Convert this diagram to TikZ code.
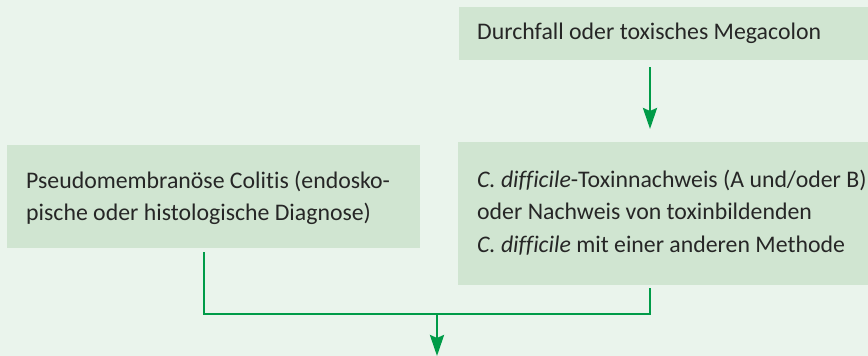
\documentclass[tikz,border=0pt]{standalone}
\usepackage{fontspec}
\setmainfont[Ligatures=NoCommon]{Carlito}
\usetikzlibrary{arrows.meta}
\definecolor{bgcol}{RGB}{234,244,236}
\definecolor{boxcol}{RGB}{208,229,209}
\definecolor{arrcol}{RGB}{0,155,72}
\definecolor{txtcol}{RGB}{38,38,38}
\tikzset{
  box/.style={fill=boxcol, draw=none, inner sep=0pt, anchor=north west},
  txt/.style={inner sep=0pt, anchor=base west, text=txtcol,
    font=\fontsize{23.8}{32}\selectfont},
  conn/.style={draw=arrcol, line width=2.8pt},
  arr/.style={conn, -{Stealth[length=21pt,width=14pt,inset=3pt]}}
}
\newcommand{\twolines}[2]{\vtop{\baselineskip=32pt\hbox{#1}\hbox{#2}}}
\newcommand{\threelines}[3]{\vtop{\baselineskip=32.5pt\hbox{#1}\hbox{#2}\hbox{#3}}}
\begin{document}
\begin{tikzpicture}[x=1pt,y=-1pt]
\fill[bgcol] (0,0) rectangle (868,356);
\useasboundingbox (0,0) rectangle (868,356);
% boxes
\node[box, minimum width=409pt, minimum height=53pt] (top) at (459,7) {};
\node[box, minimum width=410pt, minimum height=143pt] (right) at (458,142) {};
\node[box, minimum width=413pt, minimum height=103pt] (left) at (7,145) {};
% texts
\node[txt] (toptxt) at (477,39) {Durchfall oder toxisches Megacolon};
\node[txt] (righttxt) at (477,187) {\threelines{\textit{C. difficile}-Toxinnachweis (A und/oder B)}{oder Nachweis von toxinbildenden}{\textit{C. difficile} mit einer anderen Methode}};
\node[txt] (lefttxt) at (26,188) {\twolines{Pseudomembranöse Colitis (endosko-}{pische oder histologische Diagnose)}};
% ports
\coordinate (topout) at (650,67);
\coordinate (rightin) at (650,129);
\coordinate (leftout) at (204,252);
\coordinate (rightout) at (650,288);
\coordinate (join) at (437,314);
\coordinate (endpt) at (437,356);
% connectors
\draw[arr] (topout) -- (rightin);
\draw[conn, line join=miter] (leftout) |- (join) -| (rightout);
\draw[arr] (join) -- (endpt);
\end{tikzpicture}
\end{document}
